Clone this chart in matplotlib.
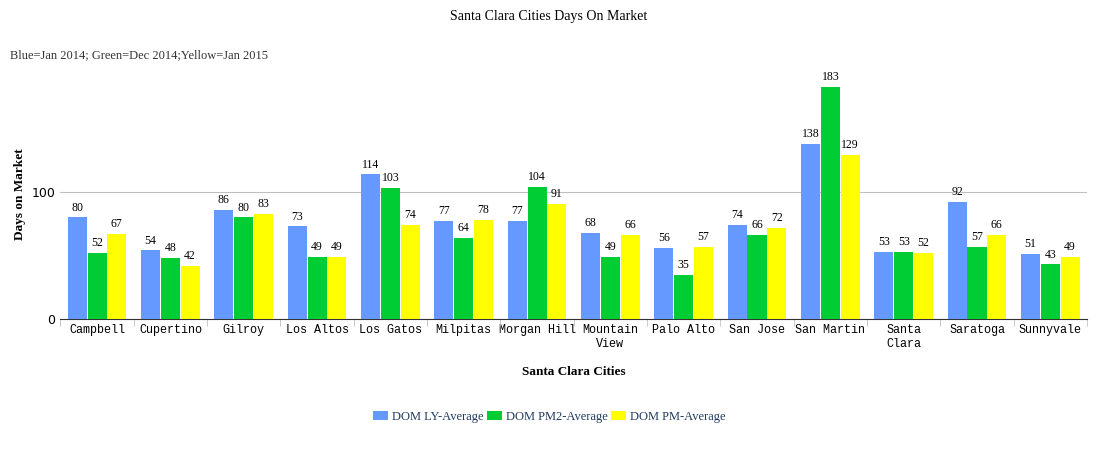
import numpy as np
import matplotlib.pyplot as plt

cities = ["Campbell", "Cupertino", "Gilroy", "Los Altos", "Los Gatos", "Milpitas",
          "Morgan Hill", "Mountain\nView", "Palo Alto", "San Jose", "San Martin",
          "Santa\nClara", "Saratoga", "Sunnyvale"]
ly_avg = [80, 54, 86, 73, 114, 77, 77, 68, 56, 74, 138, 53, 92, 51]
pm2_avg = [52, 48, 80, 49, 103, 64, 104, 49, 35, 66, 183, 53, 57, 43]
pm_avg = [67, 42, 83, 49, 74, 78, 91, 66, 57, 72, 129, 52, 66, 49]

series = [("DOM LY-Average", ly_avg, "#6699ff"),
          ("DOM PM2-Average", pm2_avg, "#00cc33"),
          ("DOM PM-Average", pm_avg, "#ffff00")]

serif = ["Liberation Serif", "DejaVu Serif"]
fig = plt.figure(figsize=(10.98, 4.5), dpi=100)
ax = fig.add_axes([0.055, 0.291, 0.935, 0.553])

x = np.arange(len(cities))
w = 0.26
for i, (name, vals, col) in enumerate(series):
    pos = x + (i - 1) * (w + 0.01)
    bars = ax.bar(pos, vals, w, color=col, label=name, zorder=3)
    for p, v in zip(pos, vals):
        ax.text(p, v + 3, str(v), ha="center", va="bottom", fontsize=8.5, family=serif)

ax.set_xlim(-0.5, len(cities) - 0.5)
ax.set_ylim(0, 196)
ax.set_yticks([0, 100])
ax.tick_params(axis="y", length=0, labelsize=9)
ax.grid(axis="y", color="#c0c0c0", linewidth=0.8, zorder=0)
ax.set_xticks(x)
ax.set_xticklabels(cities, family=["Liberation Mono", "DejaVu Sans Mono"], fontsize=8.5)
ax.set_xticks(np.arange(len(cities) + 1) - 0.5, minor=True)
ax.tick_params(axis="x", which="major", length=0)
ax.tick_params(axis="x", which="minor", length=5, color="#c0c0c0")
for s in ["top", "right", "left"]:
    ax.spines[s].set_visible(False)
ax.spines["bottom"].set_color("#333333")
ax.set_ylabel("Days on Market", family=serif, fontweight="bold", fontsize=9.5)
ax.set_xlabel("Santa Clara Cities", family=serif, fontweight="bold", fontsize=9.5, labelpad=12)

fig.text(0.5, 0.955, "Santa Clara Cities Days On Market", ha="center", fontsize=10, family=serif)
fig.text(0.009, 0.87, "Blue=Jan 2014; Green=Dec 2014;Yellow=Jan 2015", fontsize=9,
         family=serif, color="#333333")
leg = fig.legend(loc="center", bbox_to_anchor=(0.5, 0.073), ncol=3, frameon=False,
                 prop={"family": serif, "size": 9}, handlelength=1.2, columnspacing=0.3,
                 handletextpad=0.3)
for t in leg.get_texts():
    t.set_color("#1f3a5f")
fig.savefig("out.png", dpi=100)
